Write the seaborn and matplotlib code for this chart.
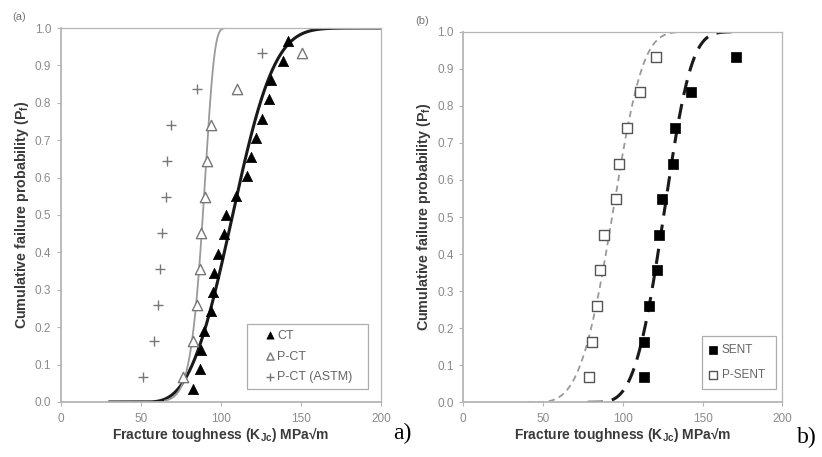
import numpy as np
import pandas as pd
import matplotlib
matplotlib.use("Agg")
import matplotlib.pyplot as plt
import seaborn as sns

# ---- Panel (a): compact tension specimens ----
ct_k = [82.3, 86.9, 87.7, 89.4, 93.8, 95.2, 95.8, 98.3, 101.9, 102.9,
        109.4, 116.0, 118.5, 121.9, 125.4, 130.0, 131.0, 138.5, 142.0]
ct_p = [0.036, 0.088, 0.139, 0.191, 0.242, 0.294, 0.345, 0.397, 0.448, 0.500,
        0.552, 0.603, 0.655, 0.706, 0.758, 0.809, 0.861, 0.912, 0.964]

pct_k = [76.5, 82.7, 85.0, 86.9, 87.5, 90.2, 91.3, 94.0, 110.0, 150.8]
pct_p = [0.067, 0.163, 0.260, 0.356, 0.452, 0.548, 0.644, 0.740, 0.837, 0.933]

astm_k = [51.0, 58.1, 60.6, 62.0, 63.3, 65.4, 66.5, 69.0, 85.0, 125.8]
astm_p = [0.067, 0.163, 0.260, 0.356, 0.452, 0.548, 0.644, 0.740, 0.837, 0.933]

# ---- Panel (b): single edge notched tension specimens ----
sent_k = [113.1, 113.5, 116.4, 121.3, 122.7, 124.8, 131.7, 132.7, 142.8, 170.8]
sent_p = [0.067, 0.163, 0.260, 0.356, 0.452, 0.548, 0.644, 0.740, 0.837, 0.933]

psent_k = [78.6, 80.7, 84.0, 85.7, 88.4, 95.7, 97.4, 102.6, 110.6, 120.6]
psent_p = [0.067, 0.163, 0.260, 0.356, 0.452, 0.548, 0.644, 0.740, 0.837, 0.933]

# Weibull fits: (threshold, scale, shape, K start, K end)
ct_fit = [52.0, 62.2, 3.1, 30.0, 200.0]
pct_fit = [0.0, 90.6, 17.0, 65.0, 117.0]
sent_fit = [80.0, 50.1, 3.8, 78.0, 173.0]
psent_fit = [40.0, 58.4, 4.0, 40.0, 160.0]

x_ticks = [0, 50, 100, 150, 200]
y_ticks = [0.0, 0.1, 0.2, 0.3, 0.4, 0.5, 0.6, 0.7, 0.8, 0.9, 1.0]


def weibull_curve(params, n=400):
    k0, scale, shape, start, end = params
    k = np.linspace(start, end, n)
    z = np.clip(k - k0, 0, None) / scale
    return pd.DataFrame({"K": k, "P": 1.0 - np.exp(-z ** shape)})


sns.set_theme(style="white")
plt.rcParams["font.family"] = ["Liberation Sans", "DejaVu Sans"]

fig = plt.figure(figsize=(8.22, 4.57), dpi=100)
ax_a = fig.add_axes([0.0742, 0.1204, 0.3893, 0.8183])
ax_b = fig.add_axes([0.5636, 0.1197, 0.3881, 0.8109])

tick_grey = "#8a8a8a"
spine_grey = "#b5b5b5"
label_color = "#3a3a3a"

# Panel (a)
sns.lineplot(data=weibull_curve(ct_fit), x="K", y="P", ax=ax_a,
             color="#1a1a1a", lw=2.2, sort=False)
sns.lineplot(data=weibull_curve(pct_fit), x="K", y="P", ax=ax_a,
             color="#9a9a9a", lw=1.3, sort=False)
sns.scatterplot(x=ct_k, y=ct_p, ax=ax_a, marker="^", s=55, color="black",
                edgecolor="black", linewidth=0.5, label="CT", zorder=3)
sns.scatterplot(x=pct_k, y=pct_p, ax=ax_a, marker="^", s=55, facecolor="white",
                edgecolor="#777777", linewidth=1.0, label="P-CT", zorder=3)
sns.scatterplot(x=astm_k, y=astm_p, ax=ax_a, marker="+", s=60, color="#777777",
                linewidth=1.0, label="P-CT (ASTM)", zorder=3)

# Panel (b)
sns.lineplot(data=weibull_curve(psent_fit), x="K", y="P", ax=ax_b,
             color="#999999", lw=1.3, sort=False)
ax_b.lines[-1].set_dashes([3.5, 2.5])
sns.lineplot(data=weibull_curve(sent_fit), x="K", y="P", ax=ax_b,
             color="#1a1a1a", lw=2.2, sort=False)
ax_b.lines[-1].set_dashes([5, 3])
sns.scatterplot(x=sent_k, y=sent_p, ax=ax_b, marker="s", s=55, color="black",
                edgecolor="black", linewidth=0.5, label="SENT", zorder=3)
sns.scatterplot(x=psent_k, y=psent_p, ax=ax_b, marker="s", s=55, facecolor="white",
                edgecolor="#555555", linewidth=1.0, label="P-SENT", zorder=3)

legend_styles = {
    "a": dict(bbox_to_anchor=(0.581, 0.035, 0.378, 0.2), fontsize=9,
              handlelength=2.8, handletextpad=-0.84, labelspacing=0.7,
              borderpad=0.45, markerscale=0.7),
    "b": dict(bbox_to_anchor=(0.747, 0.036, 0.232, 0.2), fontsize=8.5,
              handlelength=0.55, handletextpad=0.5, labelspacing=1.15,
              borderpad=0.65, markerscale=0.75),
}

for ax, panel, key in ((ax_a, "(a)", "a"), (ax_b, "(b)", "b")):
    ax.set_xlim(0, 200)
    ax.set_ylim(0, 1.0)
    ax.set_xticks(x_ticks)
    ax.set_yticks(y_ticks)
    ax.set_xticklabels([str(v) for v in x_ticks])
    ax.set_yticklabels([f"{v:.1f}" for v in y_ticks])
    ax.tick_params(axis="both", which="both", direction="out", length=3,
                   width=0.8, color=spine_grey, labelcolor=tick_grey,
                   labelsize=8.5, bottom=True, left=True)
    ax.tick_params(axis="x", pad=5)
    ax.tick_params(axis="y", pad=4)
    for side, sp in ax.spines.items():
        sp.set_visible(True)
        sp.set_color(spine_grey)
        sp.set_linewidth(1.3 if side in ("left", "bottom") else 0.9)
    ax.set_xlabel("Fracture toughness (K$_{\\mathregular{Jc}}$) MPa\u221am",
                  fontsize=10, fontweight="bold", color=label_color, labelpad=0)
    ax.set_ylabel("Cumulative failure probability (P$_{\\mathregular{f}}$)",
                  fontsize=10.3, fontweight="bold", color=label_color, labelpad=3)
    ax.text(-0.152, 1.03, panel, transform=ax.transAxes, fontsize=8,
            color="#777777", ha="left", va="center")
    leg = ax.legend(loc="lower left", mode="expand", frameon=True, fancybox=False,
                    edgecolor="#999999", borderaxespad=0.0, labelcolor="#666666",
                    **legend_styles[key])
    leg.get_frame().set_linewidth(0.9)

fig.text(393 / 822, 1 - 433 / 457, "a)", fontsize=17, family="Liberation Serif",
         color="black", ha="left", va="center")
fig.text(797 / 822, 1 - 437 / 457, "b)", fontsize=17, family="Liberation Serif",
         color="black", ha="left", va="center")

fig.savefig("out.png", dpi=100, facecolor="white")
